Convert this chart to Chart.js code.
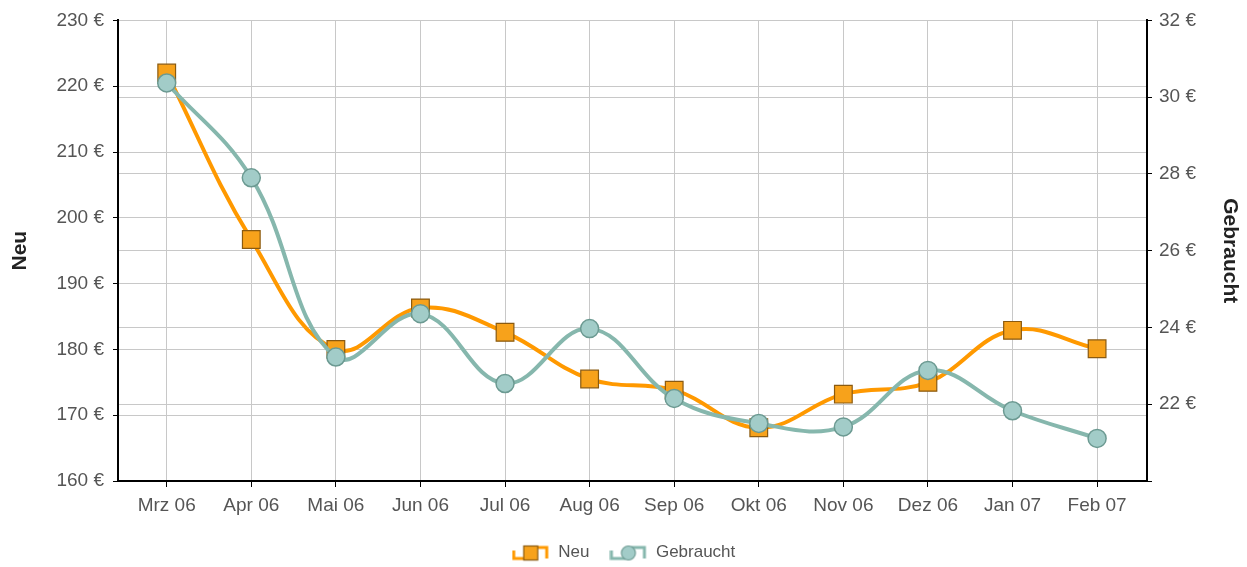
<!DOCTYPE html>
<html>
  <head>
    <title>Preise</title>
    <script src="https://cdn.jsdelivr.net/npm/chart.js"></script>
    <style>
      body {
        margin: 0;
        background: #fff;
      }
      .chart-container {
        width: 1247px;
        height: 567px;
      }
    </style>
  </head>
  <body>
    <div class="chart-container">
      <canvas id="graph"></canvas>
    </div>
    <script>
      const months = ["Mrz 06", "Apr 06", "Mai 06", "Jun 06", "Jul 06", "Aug 06",
        "Sep 06", "Okt 06", "Nov 06", "Dez 06", "Jan 07", "Feb 07"];
      const neu = [222, 196.7, 180, 186.3, 182.6, 175.5, 173.8, 168.1, 173.2, 175, 182.9, 180.1];
      const gebraucht = [30.37, 27.9, 23.23, 24.36, 22.54, 23.97, 22.15, 21.5, 21.41, 22.88, 21.83, 21.11];

      const neuColor = "#ff9900";
      const gebrColor = "#86b7ad";
      const font = "Arial, Liberation Sans";

      // small legend icons: line with marker
      function icon(kind) {
        const c = document.createElement("canvas");
        c.width = 38;
        c.height = 18;
        const g = c.getContext("2d");
        g.strokeStyle = kind === "rect" ? neuColor : gebrColor;
        g.lineWidth = 3;
        g.beginPath();
        g.moveTo(2, 7);
        g.lineTo(2, 15);
        g.lineTo(16, 15);
        g.moveTo(22, 4);
        g.lineTo(35, 4);
        g.lineTo(35, 15);
        g.stroke();
        g.lineWidth = 1.2;
        if (kind === "rect") {
          g.fillStyle = "#f7a21b";
          g.strokeStyle = "#8a5a10";
          g.fillRect(12, 2.5, 14, 14);
          g.strokeRect(12, 2.5, 14, 14);
        } else {
          g.fillStyle = "#a2ccc8";
          g.strokeStyle = "#6c9a92";
          g.beginPath();
          g.arc(19, 9.5, 7, 0, Math.PI * 2);
          g.fill();
          g.stroke();
        }
        return c;
      }

      const ctx = document.getElementById("graph").getContext("2d");
      new Chart(ctx, {
        type: "line",
        data: {
          datasets: [
            {
              label: "Neu",
              data: neu.map((v, i) => ({ x: i, y: v })),
              yAxisID: "y",
              borderColor: neuColor,
              borderWidth: 4,
              tension: 0.4,
              pointStyle: "rect",
              pointRadius: 12.5,
              pointBackgroundColor: "#f7a21b",
              pointBorderColor: "#8a5a10",
              pointBorderWidth: 1.2,
              order: 2,
            },
            {
              label: "Gebraucht",
              data: gebraucht.map((v, i) => ({ x: i, y: v })),
              yAxisID: "y1",
              borderColor: gebrColor,
              borderWidth: 4,
              tension: 0.4,
              pointStyle: "circle",
              pointRadius: 9,
              pointBackgroundColor: "#a2ccc8",
              pointBorderColor: "#6c9a92",
              pointBorderWidth: 1.5,
              order: 1,
            },
          ],
        },
        options: {
          responsive: true,
          maintainAspectRatio: false,
          animation: false,
          layout: { padding: { top: 20, bottom: -4 } },
          plugins: {
            tooltip: { enabled: false },
            legend: {
              position: "bottom",
              labels: {
                color: "#555",
                font: { family: font, size: 17 },
                usePointStyle: true,
                pointStyleWidth: 38,
                padding: 20,
                generateLabels: (chart) =>
                  chart.data.datasets.map((ds, i) => ({
                    text: ds.label,
                    pointStyle: icon(i === 0 ? "rect" : "circle"),
                    datasetIndex: i,
                    fontColor: "#555",
                    lineWidth: 0,
                    strokeStyle: "transparent",
                    fillStyle: "transparent",
                  })),
              },
            },
          },
          scales: {
            x: {
              type: "linear",
              min: -0.576,
              max: 11.59,
              afterBuildTicks: (axis) => {
                axis.ticks = months.map((m, i) => ({ value: i }));
              },
              afterFit: (axis) => {
                axis.height = 43;
              },
              ticks: {
                callback: (v) => months[v],
                color: "#555",
                font: { family: font, size: 19 },
                maxRotation: 0,
                autoSkip: false,
                padding: 7,
              },
              grid: {
                color: "#c8c8c8",
                tickColor: "#000",
                tickLength: 6,
              },
              border: { color: "#000", width: 2 },
            },
            y: {
              position: "left",
              min: 160,
              max: 230,
              afterFit: (axis) => {
                axis.width = 118;
              },
              ticks: {
                stepSize: 10,
                callback: (v) => v + " €",
                color: "#555",
                font: { family: font, size: 19 },
                padding: 9,
              },
              grid: {
                color: "#c8c8c8",
                tickColor: "#000",
                tickLength: 5,
              },
              border: { color: "#000", width: 2 },
              title: {
                display: true,
                text: "Neu",
                color: "#222",
                font: { family: font, size: 21, weight: "bold" },
                padding: 8,
              },
            },
            y1: {
              position: "right",
              min: 20,
              max: 32,
              afterFit: (axis) => {
                axis.width = 100;
              },
              ticks: {
                stepSize: 2,
                callback: (v) => (v === 20 ? "" : v + " €"),
                color: "#555",
                font: { family: font, size: 19 },
                padding: 7,
              },
              grid: {
                color: "#c8c8c8",
                tickColor: "#000",
                tickLength: 5,
              },
              border: { color: "#000", width: 2 },
              title: {
                display: true,
                text: "Gebraucht",
                color: "#222",
                font: { family: font, size: 21, weight: "bold" },
                padding: 5,
              },
            },
          },
        },
      });
    </script>
  </body>
</html>
